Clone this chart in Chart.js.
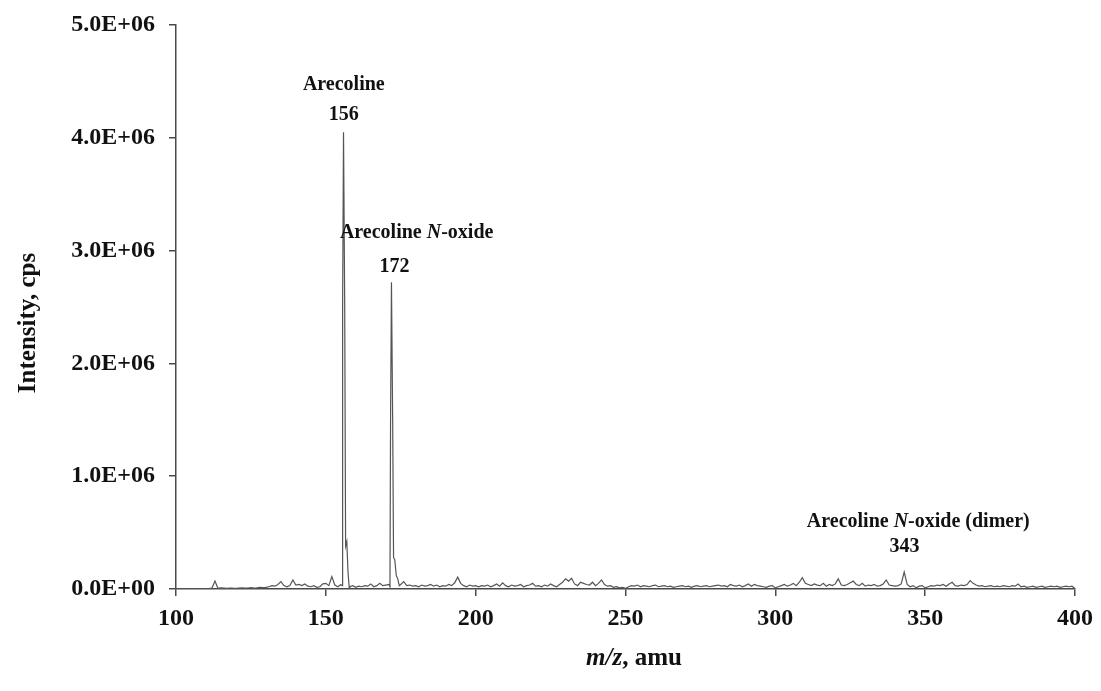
<!DOCTYPE html>
<html>
<head>
<meta charset="utf-8">
<script src="https://cdn.jsdelivr.net/npm/chart.js@4/dist/chart.umd.min.js"></script>
<style>
  html, body { margin: 0; padding: 0; background: #ffffff; }
  #wrap { width: 1101px; height: 691px; position: relative; }
</style>
</head>
<body>
<div id="wrap"><canvas id="c"></canvas></div>
<script>
// ---- Data (intensity in thousands of cps) ----
const spectrum = [
  [100,0],[101,2],[102,1],[103,3],[104,2],[105,1],[106,2],[107,3],[108,2],[109,4],
  [110,3],[111,5],[112,8],[113,70],[114,6],[115,10],[116,8],[117,5],[118,9],[119,7],
  [120,6],[121,8],[122,10],[123,7],[124,9],[125,12],[126,8],[127,10],[128,15],[129,12],
  [130,15],[131,20],[132,30],[133,25],[134,40],[135,65],[136,30],[137,20],[138,30],[139,80],
  [140,35],[141,40],[142,30],[143,45],[144,25],[145,20],[146,30],[147,15],[148,20],[149,45],
  [150,50],[151,30],[152,110],[153,35],[154,20],[155,40],
  [155.4,30],[155.6,2500],[155.9,4050],[156.3,2500],[156.6,380],[157,420],[157.4,150],[157.8,15],
  [158,20],[159,30],[160,15],[161,25],[162,20],[163,30],[164,25],[165,45],[166,20],[167,30],
  [168,50],[169,30],[170,35],[171,40],
  [171.4,20],[171.6,1500],[171.9,2720],[172.3,1500],[172.6,280],[173,260],[173.5,120],[174,90],[174.5,30],
  [175,40],[176,65],[177,30],[178,35],[179,25],[180,30],[181,20],[182,35],[183,25],[184,30],
  [185,40],[186,25],[187,35],[188,20],[189,30],[190,25],[191,40],[192,30],[193,55],[194,105],
  [195,50],[196,30],[197,20],[198,35],[199,25],[200,30],
  [201,20],[202,30],[203,25],[204,35],[205,20],[206,30],[207,45],[208,25],[209,55],[210,30],
  [211,20],[212,35],[213,25],[214,30],[215,40],[216,20],[217,30],[218,35],[219,50],[220,25],
  [221,30],[222,20],[223,35],[224,25],[225,45],[226,30],[227,20],[228,40],[229,60],[230,90],
  [231,70],[232,95],[233,45],[234,30],[235,60],[236,50],[237,40],[238,35],[239,60],[240,30],
  [241,50],[242,80],[243,40],[244,25],[245,30],[246,15],[247,20],[248,10],[249,15],[250,5],
  [251,20],[252,30],[253,25],[254,35],[255,20],[256,30],[257,25],[258,20],[259,30],[260,35],
  [261,20],[262,25],[263,30],[264,20],[265,25],[266,15],[267,20],[268,25],[269,30],[270,20],
  [271,25],[272,15],[273,25],[274,30],[275,20],[276,25],[277,30],[278,20],[279,25],[280,30],
  [281,35],[282,25],[283,30],[284,20],[285,40],[286,30],[287,25],[288,35],[289,20],[290,30],
  [291,45],[292,25],[293,40],[294,30],[295,25],[296,20],[297,15],[298,25],[299,30],[300,10],
  [301,20],[302,30],[303,40],[304,25],[305,35],[306,50],[307,30],[308,60],[309,100],[310,50],
  [311,40],[312,30],[313,45],[314,35],[315,30],[316,50],[317,25],[318,40],[319,30],[320,45],
  [321,90],[322,35],[323,30],[324,40],[325,55],[326,70],[327,40],[328,30],[329,50],[330,25],
  [331,35],[332,30],[333,40],[334,25],[335,30],[336,45],[337,80],[338,35],[339,30],[340,25],
  [341,30],[342,45],[343,150],[344,40],[345,20],[346,30],[347,10],[348,25],[349,30],[350,10],
  [351,20],[352,30],[353,25],[354,35],[355,30],[356,40],[357,25],[358,45],[359,60],[360,30],
  [361,25],[362,35],[363,30],[364,40],[365,75],[366,50],[367,35],[368,25],[369,30],[370,20],
  [371,25],[372,30],[373,20],[374,25],[375,20],[376,30],[377,25],[378,20],[379,30],[380,25],
  [381,45],[382,20],[383,25],[384,15],[385,20],[386,25],[387,15],[388,20],[389,25],[390,15],
  [391,20],[392,25],[393,20],[394,25],[395,15],[396,20],[397,25],[398,20],[399,25],[400,5]
];
const yTickLabels = ['0.0E+00','1.0E+06','2.0E+06','3.0E+06','4.0E+06','5.0E+06'];
const xTickValues = [100,150,200,250,300,350,400];
const peakLabels = [
  { parts: [['Arecoline', false]], x: 156, y: 4468 },
  { parts: [['156', false]], x: 156, y: 4202 },
  { parts: [['Arecoline ', false], ['N', true], ['-oxide', false]], x: 180.3, y: 3156 },
  { parts: [['172', false]], x: 172.9, y: 2855 },
  { parts: [['Arecoline ', false], ['N', true], ['-oxide (dimer)', false]], x: 347.7, y: 594 },
  { parts: [['343', false]], x: 343.1, y: 372 }
];
const xTitleParts = [['m/z', true], [', amu', false]];
const yTitle = 'Intensity, cps';

const FAM = '"Liberation Serif", "Times New Roman", serif';
const AXIS = '#4a4a4a';

function drawParts(ctx, parts, cx, cy, size) {
  let total = 0;
  const widths = parts.map(([t, it]) => {
    ctx.font = (it ? 'italic ' : '') + 'bold ' + size + 'px ' + FAM;
    const w = ctx.measureText(t).width; total += w; return w;
  });
  let x = cx - total / 2;
  parts.forEach(([t, it], i) => {
    ctx.font = (it ? 'italic ' : '') + 'bold ' + size + 'px ' + FAM;
    ctx.fillText(t, x, cy);
    x += widths[i];
  });
}

const textPlugin = {
  id: 'texts',
  afterDraw(chart) {
    const ctx = chart.ctx;
    const xs = chart.scales.x, ys = chart.scales.y;
    ctx.save();
    ctx.fillStyle = '#111';
    ctx.textAlign = 'left';
    ctx.textBaseline = 'middle';
    peakLabels.forEach(l => {
      drawParts(ctx, l.parts, xs.getPixelForValue(l.x), ys.getPixelForValue(l.y), 20);
    });
    drawParts(ctx, xTitleParts, 634, 659, 25);
    ctx.translate(29, 323);
    ctx.rotate(-Math.PI / 2);
    ctx.textAlign = 'center';
    ctx.font = 'bold 25px ' + FAM;
    ctx.fillText(yTitle, 0, 0);
    ctx.restore();
  }
};

new Chart(document.getElementById('c'), {
  type: 'scatter',
  data: {
    datasets: [{
      data: spectrum.map(p => ({ x: p[0], y: p[1] })),
      showLine: true,
      borderColor: '#555',
      borderWidth: 1.2,
      pointRadius: 0,
      tension: 0
    }]
  },
  options: {
    responsive: true,
    maintainAspectRatio: false,
    animation: false,
    layout: { padding: { left: 0, top: 25, right: 24, bottom: 0 } },
    plugins: { legend: { display: false }, tooltip: { enabled: false } },
    scales: {
      x: {
        type: 'linear', min: 100, max: 400,
        afterBuildTicks(s) { s.ticks = xTickValues.map(v => ({ value: v })); },
        afterFit(s) { s.height = 102; },
        ticks: { color: '#111', font: { family: FAM, size: 24, weight: 'bold' }, padding: 8, maxRotation: 0 },
        grid: { display: true, drawOnChartArea: false, drawTicks: true, tickLength: 7, color: AXIS, lineWidth: 1.5 },
        border: { display: true, color: AXIS, width: 1.5 }
      },
      y: {
        type: 'linear', min: 0, max: 5000,
        ticks: { stepSize: 1000, color: '#111', font: { family: FAM, size: 24, weight: 'bold', lineHeight: 1 }, padding: 14,
          callback: (v, i) => yTickLabels[i] },
        afterFit(s) { s.width = 176; s.paddingTop = 0; s.paddingBottom = 0; },
        grid: { display: true, drawOnChartArea: false, drawTicks: true, tickLength: 7, color: AXIS, lineWidth: 1.5 },
        border: { display: true, color: AXIS, width: 1.5 }
      }
    }
  },
  plugins: [textPlugin]
});
</script>
</body>
</html>
